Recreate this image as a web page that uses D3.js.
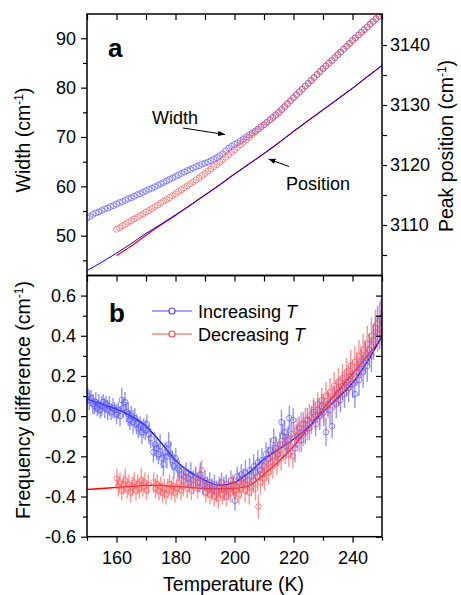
<!DOCTYPE html>
<html>
<head>
<meta charset="utf-8">
<script src="https://cdn.jsdelivr.net/npm/d3@7"></script>
<style>
  body { margin: 0; background: #fff; }
  svg text { font-family: "Liberation Sans", Arial, Helvetica, sans-serif; fill: #000; }
</style>
</head>
<body>
<svg id="chart" width="461" height="595"></svg>
<script>
// ---- panel a : peak width (circles) and peak position (lines) ----
const widthIncT = d3.range(150, 251);
const widthInc = [
  53.6, 53.9, 54.3, 54.6, 54.8, 55.1, 55.4, 55.6, 55.9, 56.1,
  56.4, 56.7, 56.9, 57.2, 57.5, 57.7, 58.0, 58.3, 58.5, 58.8,
  59.1, 59.4, 59.6, 59.9, 60.2, 60.5, 60.8, 61.1, 61.4, 61.7,
  62.0, 62.3, 62.6, 62.9, 63.2, 63.4, 63.7, 64.0, 64.2, 64.5,
  64.7, 64.9, 65.2, 65.5, 65.8, 66.2, 66.6, 67.2, 67.7, 68.1,
  68.5, 68.8, 69.2, 69.6, 70.0, 70.4, 70.8, 71.2, 71.6, 72.1,
  72.5, 73.0, 73.5, 74.0, 74.5, 75.0, 75.6, 76.2, 76.8, 77.4,
  78.0, 78.6, 79.2, 79.7, 80.3, 80.9, 81.5, 82.1, 82.7, 83.3,
  83.9, 84.4, 85.0, 85.5, 86.1, 86.7, 87.2, 87.8, 88.4, 89.0,
  89.6, 90.1, 90.7, 91.2, 91.8, 92.3, 92.9, 93.4, 94.0, 94.5,
  95.0
];
const widthDecT = d3.range(160, 251);
const widthDec = [
  51.3, 51.6, 52.0, 52.3, 52.7, 53.0, 53.4, 53.7, 54.1, 54.4,
  54.8, 55.1, 55.5, 55.9, 56.2, 56.6, 57.0, 57.3, 57.7, 58.1,
  58.5, 58.9, 59.3, 59.7, 60.1, 60.5, 60.9, 61.3, 61.7, 62.2,
  62.6, 63.1, 63.5, 64.0, 64.4, 64.9, 65.4, 65.9, 66.4, 66.9,
  67.4, 67.9, 68.4, 68.9, 69.4, 69.9, 70.5, 71.0, 71.5, 72.0,
  72.4, 72.9, 73.4, 73.9, 74.4, 74.9, 75.5, 76.1, 76.7, 77.3,
  77.9, 78.5, 79.1, 79.7, 80.3, 80.8, 81.4, 82.0, 82.6, 83.2,
  83.8, 84.4, 84.9, 85.5, 86.1, 86.6, 87.2, 87.8, 88.3, 88.9,
  89.5, 90.1, 90.6, 91.2, 91.7, 92.3, 92.8, 93.4, 93.9, 94.5,
  95.0
];
const posIncT = [150, 155, 160, 165, 170, 175, 180, 185, 190, 195, 200, 205, 210, 215, 220, 225, 230, 235, 240, 245, 250];
const posInc = [3102.4, 3103.8, 3105.3, 3106.9, 3108.6, 3110.1, 3111.7, 3113.3, 3115.0, 3116.7, 3118.5,
                3120.2, 3121.9, 3123.7, 3125.6, 3127.4, 3129.2, 3131.0, 3132.8, 3134.7, 3136.6];
const posDecT = [160, 165, 170, 175, 180, 185, 190, 195, 200, 205, 210, 215, 220, 225, 230, 235, 240, 245, 250];
const posDec = [3104.9, 3106.5, 3108.3, 3110.0, 3111.6, 3113.3, 3115.0, 3116.7, 3118.5,
                3120.2, 3121.9, 3123.7, 3125.6, 3127.4, 3129.2, 3131.0, 3132.8, 3134.7, 3136.6];

// ---- panel b : frequency difference with error bars and fits ----
const diffIncT = [
  150.3, 150.8, 151.4, 152.0, 152.5, 153.0, 153.5, 154.0, 154.5, 155.0, 155.5, 156.0, 156.5, 157.0, 157.6,
  158.2, 158.8, 159.4, 160.0, 160.6, 161.2, 161.8, 162.3, 162.9, 163.4, 164.0, 164.5, 165.0, 165.6, 166.2,
  166.8, 167.4, 168.0, 168.6, 169.2, 169.8, 170.3, 171.0, 171.6, 172.5, 173.0, 173.6, 174.2, 174.8, 175.4,
  175.9, 176.5, 177.1, 177.7, 178.3, 178.9, 179.5, 180.1, 180.7, 181.3, 182.0, 182.8, 183.6, 184.4, 185.2,
  186.0, 186.8, 187.6, 188.4, 189.2, 190.0, 190.8, 191.6, 192.4, 193.2, 194.0, 194.8, 195.6, 196.4, 197.2,
  198.0, 198.8, 199.6, 200.2, 200.9, 201.6, 202.3, 203.0, 203.7, 204.4, 205.1, 205.8, 206.5, 207.2, 207.9,
  208.6, 209.3, 210.0, 210.7, 211.4, 212.1, 212.8, 213.3, 214.0, 214.7, 215.4, 215.9, 216.4, 217.0, 217.6,
  218.2, 218.6, 219.2, 219.9, 220.5, 221.2, 221.9, 222.6, 223.3, 224.0, 224.7, 225.4, 226.1, 226.8, 227.5,
  228.2, 228.9, 229.6, 230.3, 231.0, 231.7, 232.4, 233.1, 233.8, 234.5, 235.2, 235.9, 236.6, 237.3, 238.0,
  238.7, 239.4, 240.1, 240.8, 241.5, 242.2, 242.9, 243.6, 244.3, 245.0, 245.7, 246.4, 247.1, 247.8, 248.5,
  249.2, 249.7
];
const diffInc = [
  0.10, 0.08, 0.09, 0.06, 0.05, 0.07, 0.04, 0.06, 0.03, 0.05, 0.07, 0.04, 0.06, 0.03, 0.05,
  0.02, 0.04, 0.03, 0.01, 0.03, 0.00, 0.08, 0.04, 0.07, 0.02, 0.01, -0.02, 0.00, -0.03, -0.01,
  -0.04, -0.06, -0.05, -0.08, -0.06, -0.07, -0.04, -0.09, -0.11, -0.18, -0.14, -0.16, -0.19, -0.15, -0.21,
  -0.24, -0.18, -0.20, -0.14, -0.19, -0.22, -0.25, -0.21, -0.26, -0.27, -0.29, -0.30, -0.28, -0.31, -0.29,
  -0.32, -0.30, -0.33, -0.29, -0.34, -0.32, -0.35, -0.33, -0.36, -0.34, -0.37, -0.35, -0.33, -0.36, -0.34,
  -0.37, -0.32, -0.35, -0.42, -0.30, -0.33, -0.29, -0.31, -0.28, -0.32, -0.27, -0.30, -0.25, -0.28, -0.23,
  -0.27, -0.22, -0.25, -0.19, -0.21, -0.17, -0.20, -0.12, -0.16, -0.19, -0.14, -0.03, -0.10, -0.08, -0.15,
  -0.12, -0.01, -0.09, -0.02, -0.16, -0.10, -0.06, -0.12, -0.04, -0.08, -0.02, -0.06, -0.01, 0.02, -0.04,
  0.03, 0.00, 0.05, 0.02, -0.08, 0.06, 0.03, -0.05, 0.09, 0.06, 0.12, 0.08, 0.15, 0.11, 0.17,
  0.14, 0.20, 0.16, 0.11, 0.22, 0.18, 0.26, 0.22, 0.29, 0.25, 0.33, 0.30, 0.38, 0.42, 0.46,
  0.41, 0.49
];
const errInc = [
  0.04, 0.05, 0.04, 0.05, 0.04, 0.05, 0.04, 0.05, 0.04, 0.05, 0.04, 0.05, 0.04, 0.05, 0.05,
  0.04, 0.05, 0.04, 0.05, 0.04, 0.05, 0.06, 0.05, 0.05, 0.05, 0.06, 0.05, 0.05, 0.06, 0.05,
  0.05, 0.05, 0.05, 0.06, 0.05, 0.05, 0.05, 0.05, 0.05, 0.05, 0.06, 0.06, 0.05, 0.06, 0.05,
  0.06, 0.05, 0.06, 0.06, 0.06, 0.05, 0.06, 0.05, 0.05, 0.05, 0.05, 0.05, 0.05, 0.05, 0.06,
  0.05, 0.05, 0.05, 0.06, 0.05, 0.05, 0.05, 0.05, 0.05, 0.05, 0.05, 0.05, 0.05, 0.06, 0.05,
  0.05, 0.05, 0.05, 0.05, 0.05, 0.05, 0.05, 0.05, 0.06, 0.05, 0.06, 0.05, 0.06, 0.05, 0.06,
  0.05, 0.06, 0.05, 0.06, 0.06, 0.06, 0.06, 0.06, 0.06, 0.06, 0.06, 0.06, 0.06, 0.06, 0.06,
  0.07, 0.06, 0.06, 0.06, 0.07, 0.06, 0.06, 0.06, 0.06, 0.06, 0.06, 0.06, 0.06, 0.06, 0.06,
  0.06, 0.07, 0.06, 0.07, 0.07, 0.06, 0.07, 0.06, 0.06, 0.07, 0.07, 0.06, 0.07, 0.07, 0.07,
  0.07, 0.07, 0.07, 0.07, 0.07, 0.08, 0.07, 0.08, 0.08, 0.08, 0.08, 0.08, 0.08, 0.08, 0.09,
  0.08, 0.09
];
const diffDecT = [
  160.1, 160.6, 161.2, 161.8, 162.4, 163.0, 163.6, 164.2, 164.8, 165.4, 166.0, 166.6, 167.2, 167.8, 168.4,
  169.0, 169.6, 170.2, 170.8, 172.6, 173.2, 173.8, 174.4, 175.0, 175.6, 176.2, 176.8, 177.4, 178.0, 178.6,
  179.2, 179.8, 180.5, 181.2, 181.9, 182.6, 183.3, 184.0, 184.7, 185.4, 186.1, 186.8, 187.5, 188.2, 188.9,
  189.6, 190.3, 191.0, 191.7, 192.4, 193.1, 193.8, 194.5, 195.2, 195.9, 196.6, 197.3, 198.0, 198.7, 199.4,
  200.1, 200.8, 201.5, 202.2, 202.9, 203.6, 204.3, 205.0, 205.7, 206.4, 207.1, 207.8, 208.1, 208.8, 209.5,
  210.2, 210.9, 211.6, 212.3, 213.0, 213.7, 214.4, 215.1, 215.8, 216.5, 217.2, 217.9, 218.4, 219.1, 219.8,
  220.5, 221.2, 221.9, 222.6, 223.3, 224.0, 224.7, 225.4, 226.1, 226.8, 227.5, 228.2, 228.9, 229.6, 230.3,
  231.0, 231.7, 232.4, 233.1, 233.8, 234.5, 235.2, 235.9, 236.6, 237.3, 238.0, 238.7, 239.4, 240.1, 240.8,
  241.5, 242.2, 242.9, 243.6, 244.3, 245.0, 245.7, 246.4, 247.1, 247.8, 248.5, 249.2, 249.8
];
const diffDec = [
  -0.31, -0.35, -0.33, -0.37, -0.34, -0.32, -0.36, -0.34, -0.38, -0.35, -0.33, -0.37, -0.34, -0.36, -0.32,
  -0.35, -0.33, -0.37, -0.34, -0.33, -0.36, -0.34, -0.37, -0.35, -0.38, -0.36, -0.39, -0.36, -0.34, -0.37,
  -0.35, -0.38, -0.36, -0.33, -0.37, -0.35, -0.30, -0.36, -0.33, -0.37, -0.34, -0.31, -0.36, -0.33, -0.27,
  -0.35, -0.38, -0.36, -0.39, -0.37, -0.40, -0.38, -0.41, -0.36, -0.39, -0.37, -0.40, -0.36, -0.38, -0.34,
  -0.37, -0.35, -0.39, -0.36, -0.33, -0.37, -0.34, -0.38, -0.35, -0.32, -0.36, -0.30, -0.45, -0.33, -0.29,
  -0.31, -0.26, -0.28, -0.23, -0.25, -0.20, -0.23, -0.17, -0.21, -0.14, -0.18, -0.12, -0.19, -0.15, -0.20,
  -0.10, -0.07, -0.12, -0.04, -0.09, -0.02, -0.06, 0.00, -0.03, 0.03, 0.00, 0.06, 0.02, 0.08, 0.04,
  0.10, 0.06, 0.12, 0.08, 0.15, 0.11, 0.17, 0.13, 0.19, 0.16, 0.22, 0.18, 0.25, 0.21, 0.27,
  0.24, 0.30, 0.27, 0.33, 0.30, 0.36, 0.33, 0.40, 0.37, 0.44, 0.41, 0.48, 0.44
];
const errDec = [
  0.05, 0.05, 0.05, 0.05, 0.05, 0.06, 0.05, 0.05, 0.05, 0.05, 0.05, 0.05, 0.05, 0.05, 0.06,
  0.05, 0.05, 0.05, 0.05, 0.05, 0.05, 0.05, 0.05, 0.05, 0.05, 0.05, 0.05, 0.05, 0.05, 0.05,
  0.05, 0.05, 0.05, 0.05, 0.05, 0.05, 0.05, 0.05, 0.05, 0.05, 0.05, 0.05, 0.05, 0.05, 0.05,
  0.05, 0.05, 0.05, 0.05, 0.05, 0.05, 0.05, 0.05, 0.05, 0.05, 0.05, 0.05, 0.05, 0.05, 0.05,
  0.05, 0.05, 0.05, 0.05, 0.05, 0.06, 0.05, 0.06, 0.05, 0.06, 0.06, 0.06, 0.06, 0.06, 0.06,
  0.06, 0.06, 0.06, 0.06, 0.06, 0.06, 0.06, 0.06, 0.06, 0.06, 0.06, 0.06, 0.06, 0.06, 0.06,
  0.06, 0.06, 0.06, 0.06, 0.06, 0.06, 0.06, 0.06, 0.06, 0.06, 0.07, 0.06, 0.07, 0.06, 0.07,
  0.07, 0.07, 0.07, 0.07, 0.07, 0.07, 0.07, 0.07, 0.07, 0.07, 0.07, 0.07, 0.08, 0.07, 0.08,
  0.08, 0.08, 0.08, 0.08, 0.08, 0.09, 0.08, 0.09, 0.09, 0.09, 0.09, 0.09, 0.09
];
const fitT = [150, 155, 160, 165, 170, 175, 180, 185, 190, 195, 200, 205, 210, 215, 220, 225, 230, 235, 240, 245, 250];
const fitInc = [0.085, 0.06, 0.035, 0.0, -0.05, -0.13, -0.22, -0.28, -0.32, -0.345, -0.33,
                -0.28, -0.215, -0.165, -0.115, -0.055, 0.02, 0.09, 0.165, 0.27, 0.40];
const fitDec = [-0.365, -0.36, -0.355, -0.35, -0.345, -0.345, -0.35, -0.355, -0.36, -0.362, -0.36,
                -0.345, -0.29, -0.225, -0.15, -0.06, 0.035, 0.125, 0.21, 0.30, 0.39];

// ---- tick values ----
const tempTicks = [160, 180, 200, 220, 240];
const tempMinor = [150, 170, 190, 210, 230, 250];
const widthTicks = [50, 60, 70, 80, 90];
const widthMinor = [45, 55, 65, 75, 85];
const posTicks = [3110, 3120, 3130, 3140];
const posMinor = [3105, 3115, 3125, 3135];
const diffTicks = [-0.6, -0.4, -0.2, 0.0, 0.2, 0.4, 0.6];
const diffMinor = [-0.5, -0.3, -0.1, 0.1, 0.3, 0.5];

const blue = "#0000ff", red = "#ff0000";
const blueSym = "#4d4dff", redSym = "#ff5050";

const svg = d3.select("#chart");
const plot = { left: 87, right: 382, top: 14, mid: 275.5, bottom: 536.7 };

const x = d3.scaleLinear().domain([150, 250]).range([plot.left, plot.right]);
const yWidth = d3.scaleLinear().domain([41.93, 94.92]).range([plot.mid, plot.top]);
const yPos = d3.scaleLinear().domain([3101.58, 3145.17]).range([plot.mid, plot.top]);
const yDiff = d3.scaleLinear().domain([-0.6, 0.7]).range([plot.bottom, plot.mid]);

const defs = svg.append("defs");
defs.append("clipPath").attr("id", "clip-a")
  .append("rect").attr("x", plot.left).attr("y", plot.top)
  .attr("width", plot.right - plot.left).attr("height", plot.mid - plot.top);
defs.append("clipPath").attr("id", "clip-b")
  .append("rect").attr("x", plot.left).attr("y", plot.mid)
  .attr("width", plot.right - plot.left).attr("height", plot.bottom - plot.mid);
defs.append("marker")
    .attr("id", "arrow")
    .attr("viewBox", "0 0 10 10")
    .attr("refX", 10).attr("refY", 5)
    .attr("markerWidth", 7).attr("markerHeight", 7)
    .attr("markerUnits", "userSpaceOnUse")
    .attr("orient", "auto")
  .append("path")
    .attr("d", "M0,1 L10,5 L0,9 Z")
    .attr("fill", "#000");

// ================= panel a =================
const gA = svg.append("g").attr("clip-path", "url(#clip-a)");

const posLine = ( ys ) => d3.line()
  .x( d => x(d[0]) )
  .y( d => ys(d[1]) )
  .curve(d3.curveMonotoneX);

gA.append("path")
  .datum( posDecT.map( (t, i) => [t, posDec[i]] ) )
  .attr("d", posLine(yPos))
  .attr("fill", "none").attr("stroke", red).attr("stroke-width", 1.2);
gA.append("path")
  .datum( posIncT.map( (t, i) => [t, posInc[i]] ) )
  .attr("d", posLine(yPos))
  .attr("fill", "none").attr("stroke", blue).attr("stroke-width", 1);

gA.selectAll(".w-inc")
  .data( widthIncT.map( (t, i) => [t, widthInc[i]] ) )
  .enter().append("circle")
    .attr("class", "w-inc")
    .attr("cx", d => x(d[0]) )
    .attr("cy", d => yWidth(d[1]) )
    .attr("r", 3)
    .attr("fill", "none")
    .attr("stroke", blueSym).attr("stroke-opacity", 0.7).attr("stroke-width", 0.9);

gA.selectAll(".w-dec")
  .data( widthDecT.map( (t, i) => [t, widthDec[i]] ) )
  .enter().append("circle")
    .attr("class", "w-dec")
    .attr("cx", d => x(d[0]) )
    .attr("cy", d => yWidth(d[1]) )
    .attr("r", 3)
    .attr("fill", "none")
    .attr("stroke", redSym).attr("stroke-opacity", 0.7).attr("stroke-width", 0.9);

// ================= panel b =================
const gB = svg.append("g").attr("clip-path", "url(#clip-b)");

const fitLine = d3.line()
  .x( d => x(d[0]) )
  .y( d => yDiff(d[1]) )
  .curve(d3.curveMonotoneX);

gB.append("path")
  .datum( fitT.map( (t, i) => [t, fitDec[i]] ) )
  .attr("d", fitLine)
  .attr("fill", "none").attr("stroke", red).attr("stroke-width", 1.3);
gB.append("path")
  .datum( fitT.map( (t, i) => [t, fitInc[i]] ) )
  .attr("d", fitLine)
  .attr("fill", "none").attr("stroke", blue).attr("stroke-width", 1.3);

function drawSeries( cls, ts, vs, es, colour ) {
  const pts = ts.map( (t, i) => ({ t, v: vs[i], e: es[i] }) );
  gB.selectAll(`.${cls}-err`)
    .data(pts)
    .enter().append("line")
      .attr("class", `${cls}-err`)
      .attr("x1", d => x(d.t) ).attr("x2", d => x(d.t) )
      .attr("y1", d => yDiff(d.v - d.e) ).attr("y2", d => yDiff(d.v + d.e) )
      .attr("stroke", colour).attr("stroke-opacity", 0.6).attr("stroke-width", 1.4);
  gB.selectAll(`.${cls}-pt`)
    .data(pts)
    .enter().append("circle")
      .attr("class", `${cls}-pt`)
      .attr("cx", d => x(d.t) )
      .attr("cy", d => yDiff(d.v) )
      .attr("r", 2.8)
      .attr("fill", "none")
      .attr("stroke", colour).attr("stroke-opacity", 0.7).attr("stroke-width", 0.9);
}
drawSeries( "d-inc", diffIncT, diffInc, errInc, blueSym );
drawSeries( "d-dec", diffDecT, diffDec, errDec, redSym );

// ================= axes =================
const noLabel = () => "";
function addAxis( axis, transform, cls ) {
  const g = svg.append("g").attr("class", cls).attr("transform", transform).call(axis);
  g.select(".domain").remove();
  g.selectAll("line").attr("stroke", "#000").attr("stroke-width", 1.2);
  g.selectAll("text").style("font-size", "18px").attr("fill", "#000");
  return g;
}

// panel a
addAxis( d3.axisLeft(yWidth).tickValues(widthTicks).tickSize(6).tickPadding(5).tickFormat(d3.format("d")),
  `translate(${plot.left},0)`, "ax-width" );
addAxis( d3.axisLeft(yWidth).tickValues(widthMinor).tickSize(4).tickFormat(noLabel),
  `translate(${plot.left},0)`, "ax-width-minor" );
addAxis( d3.axisRight(yPos).tickValues(posTicks).tickSize(5).tickPadding(3).tickFormat(d3.format("d")),
  `translate(${plot.right},0)`, "ax-pos" );
addAxis( d3.axisRight(yPos).tickValues(posMinor).tickSize(5).tickFormat(noLabel),
  `translate(${plot.right},0)`, "ax-pos-minor" );
addAxis( d3.axisTop(x).tickValues(tempTicks.concat(tempMinor)).tickSize(-6).tickFormat(noLabel),
  `translate(0,${plot.top})`, "ax-top" );
addAxis( d3.axisBottom(x).tickValues(tempTicks.concat(tempMinor)).tickSize(6).tickFormat(noLabel),
  `translate(0,${plot.mid})`, "ax-mid" );

// panel b
addAxis( d3.axisLeft(yDiff).tickValues(diffTicks).tickSize(6).tickPadding(5).tickFormat( d => d.toFixed(1) ),
  `translate(${plot.left},0)`, "ax-diff" );
addAxis( d3.axisLeft(yDiff).tickValues(diffMinor).tickSize(4).tickFormat(noLabel),
  `translate(${plot.left},0)`, "ax-diff-minor" );
addAxis( d3.axisRight(yDiff).tickValues(diffTicks.concat(diffMinor)).tickSize(-6).tickFormat(noLabel),
  `translate(${plot.right},0)`, "ax-diff-right" );
addAxis( d3.axisBottom(x).tickValues(tempTicks).tickSize(6).tickPadding(9).tickFormat(d3.format("d")),
  `translate(0,${plot.bottom})`, "ax-temp" );
addAxis( d3.axisBottom(x).tickValues(tempMinor).tickSize(4).tickFormat(noLabel),
  `translate(0,${plot.bottom})`, "ax-temp-minor" );

// frames
[[plot.top, plot.mid], [plot.mid, plot.bottom]].forEach( ([y0, y1]) => {
  svg.append("rect")
    .attr("x", plot.left).attr("y", y0)
    .attr("width", plot.right - plot.left).attr("height", y1 - y0)
    .attr("fill", "none").attr("stroke", "#000").attr("stroke-width", 1.5);
});

// ================= labels =================
function unitLabel( sel, name ) {
  sel.append("tspan").text(`${name} (cm`);
  sel.append("tspan").attr("dy", -7).style("font-size", "12px").text("-1");
  sel.append("tspan").attr("dy", 7).text(")");
}

unitLabel( svg.append("text")
  .attr("transform", "translate(30,140) rotate(-90)")
  .attr("text-anchor", "middle").style("font-size", "19.5px"), "Width" );
unitLabel( svg.append("text")
  .attr("transform", "translate(453,146) rotate(-90)")
  .attr("text-anchor", "middle").style("font-size", "19.5px"), "Peak position" );
unitLabel( svg.append("text")
  .attr("transform", "translate(30,400) rotate(-90)")
  .attr("text-anchor", "middle").style("font-size", "19.5px"), "Frequency difference" );

svg.append("text")
  .attr("x", (plot.left + plot.right) / 2 - 1).attr("y", 591)
  .attr("text-anchor", "middle").style("font-size", "19.5px")
  .text("Temperature (K)");

svg.append("text").attr("x", 108).attr("y", 57)
  .style("font-size", "26px").style("font-weight", "bold").text("a");
svg.append("text").attr("x", 109).attr("y", 322)
  .style("font-size", "26px").style("font-weight", "bold").text("b");

// annotations with arrows
svg.append("text").attr("x", 152).attr("y", 124).style("font-size", "18px").text("Width");
svg.append("line")
  .attr("x1", 183).attr("y1", 128).attr("x2", 225).attr("y2", 134.5)
  .attr("stroke", "#000").attr("stroke-width", 1).attr("marker-end", "url(#arrow)");
svg.append("text").attr("x", 286).attr("y", 190).style("font-size", "18px").text("Position");
svg.append("line")
  .attr("x1", 289).attr("y1", 166.5).attr("x2", 268.5).attr("y2", 159)
  .attr("stroke", "#000").attr("stroke-width", 1).attr("marker-end", "url(#arrow)");

// legend
const legend = [
  { label: "Increasing ", colour: blueSym, y: 311 },
  { label: "Decreasing ", colour: redSym, y: 334 }
];
legend.forEach( item => {
  svg.append("line")
    .attr("x1", 152).attr("x2", 192).attr("y1", item.y).attr("y2", item.y)
    .attr("stroke", item.colour).attr("stroke-width", 1.2);
  svg.append("circle")
    .attr("cx", 172).attr("cy", item.y).attr("r", 3)
    .attr("fill", "#fff").attr("stroke", item.colour).attr("stroke-width", 1.2);
  const t = svg.append("text").attr("x", 198).attr("y", item.y + 6.5).style("font-size", "18px");
  t.append("tspan").text(item.label);
  t.append("tspan").style("font-style", "italic").text("T");
});
</script>
</body>
</html>
